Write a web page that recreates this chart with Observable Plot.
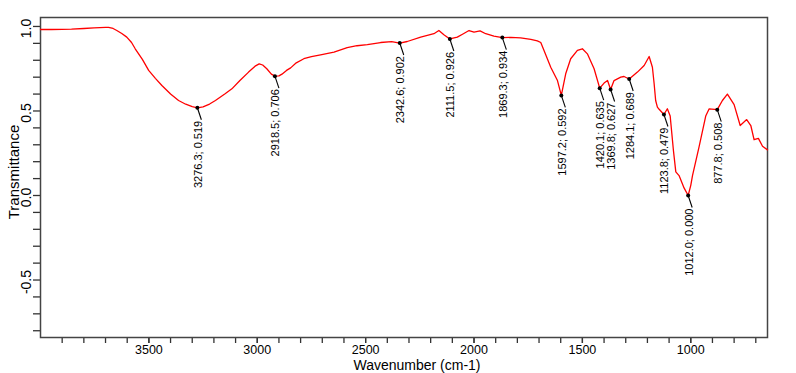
<!DOCTYPE html>
<html>
<head>
<meta charset="utf-8">
<script src="https://cdn.jsdelivr.net/npm/d3@7"></script>
<script src="https://cdn.jsdelivr.net/npm/@observablehq/plot@0.6"></script>
<style>
  body { margin: 0; background: #fff; }
  #chart svg { font-family: Arial, "Liberation Sans", sans-serif; background: #fff; }
</style>
</head>
<body>
<div id="chart"></div>
<script>
// ---- Data ----
const wavenumber = [4000, 3950, 3900, 3857, 3800, 3753, 3700, 3686, 3665, 3648, 3625, 3602, 3580, 3563, 3530, 3501, 3470, 3440, 3400, 3363, 3330, 3300, 3276.3, 3250, 3220, 3193, 3150, 3117, 3080, 3040, 3010, 2991, 2975, 2956, 2935, 2918.5, 2900, 2886, 2865, 2846, 2820, 2785, 2750, 2708, 2646, 2585, 2540, 2492, 2431, 2380, 2342.6, 2308, 2246, 2185, 2162, 2139, 2111.5, 2077, 2049, 2023, 2000, 1972, 1946, 1908, 1869.3, 1830, 1785, 1738, 1708, 1692, 1677, 1646, 1615, 1597.2, 1577, 1554, 1523, 1500, 1477, 1446, 1420.1, 1400, 1384, 1369.8, 1354, 1323, 1308, 1284.1, 1246, 1215, 1192, 1177, 1169, 1162, 1154, 1146, 1123.8, 1108, 1095, 1080, 1069, 1054, 1031, 1012.0, 1000, 992, 962, 931, 915, 877.8, 854, 831, 800, 772, 742, 723, 708, 688, 669, 646];
const transmittance = [0.982, 0.982, 0.983, 0.984, 0.988, 0.992, 0.994, 0.994, 0.988, 0.976, 0.958, 0.937, 0.905, 0.868, 0.805, 0.740, 0.693, 0.651, 0.600, 0.562, 0.540, 0.526, 0.519, 0.524, 0.541, 0.562, 0.600, 0.631, 0.680, 0.730, 0.765, 0.779, 0.772, 0.750, 0.718, 0.706, 0.708, 0.718, 0.740, 0.755, 0.785, 0.809, 0.822, 0.832, 0.848, 0.875, 0.886, 0.892, 0.905, 0.910, 0.902, 0.911, 0.937, 0.957, 0.976, 0.951, 0.926, 0.937, 0.957, 0.976, 0.966, 0.974, 0.957, 0.943, 0.934, 0.935, 0.933, 0.923, 0.915, 0.905, 0.858, 0.759, 0.680, 0.592, 0.720, 0.809, 0.858, 0.868, 0.838, 0.750, 0.635, 0.665, 0.680, 0.627, 0.680, 0.700, 0.704, 0.689, 0.730, 0.769, 0.822, 0.759, 0.661, 0.562, 0.523, 0.510, 0.479, 0.513, 0.470, 0.266, 0.140, 0.118, 0.045, 0.000, 0.060, 0.118, 0.286, 0.470, 0.513, 0.508, 0.562, 0.600, 0.538, 0.414, 0.449, 0.414, 0.330, 0.338, 0.291, 0.270];

const peakWavenumber = [3276.3, 2918.5, 2342.6, 2111.5, 1869.3, 1597.2, 1420.1, 1369.8, 1284.1, 1123.8, 1012.0, 877.8];
const peakTransmittance = [0.519, 0.706, 0.902, 0.926, 0.934, 0.592, 0.635, 0.627, 0.689, 0.479, 0.000, 0.508];

const xMajorTicks = [3500, 3000, 2500, 2000, 1500, 1000];
const xTickLabels = ["3500", "3000", "2500", "2000", "1500", "1000"];
const xMinorTicks = [3900, 3800, 3700, 3600, 3500, 3400, 3300, 3200, 3100, 3000, 2900, 2800, 2700, 2600, 2500, 2400, 2300, 2200, 2100, 2000, 1900, 1800, 1700, 1600, 1500, 1400, 1300, 1200, 1100, 1000, 900, 800, 700];
const yMajorTicks = [1.0, 0.5, 0.0, -0.5];
const yTickLabels = ["1.0", "0.5", "0.0", "-0.5"];
const yMinorTicks = [1.0, 0.9, 0.8, 0.7, 0.6, 0.5, 0.4, 0.3, 0.2, 0.1, 0.0, -0.1, -0.2, -0.3, -0.4, -0.5, -0.6, -0.7, -0.8];

const xTitle = "Wavenumber (cm-1)";
const yTitle = "Transmittance";

// ---- Layout ----
const W = 796, H = 373;
const M = {top: 17, right: 29, bottom: 36, left: 40};
const xDomain = [4000, 646];
const yDomain = [-0.84, 1.053];

const spectrum = wavenumber.map((w, i) => ({w, t: transmittance[i]}));
const peaks = peakWavenumber.map((w, i) => ({w, t: peakTransmittance[i]}));

// leader line offsets expressed in pixels, converted to data units
const pxPerX = (W - M.left - M.right) / (xDomain[0] - xDomain[1]);
const pxPerY = (H - M.top - M.bottom) / (yDomain[1] - yDomain[0]);
const leadDx = 4 / pxPerX, leadDy = 12 / pxPerY;

const chart = Plot.plot({
  width: W,
  height: H,
  marginTop: M.top,
  marginRight: M.right,
  marginBottom: M.bottom,
  marginLeft: M.left,
  style: {fontFamily: 'Arial, "Liberation Sans", sans-serif', background: "#fff"},
  x: {domain: xDomain, axis: null, label: null},
  y: {domain: yDomain, axis: null, label: null},
  marks: [
    Plot.axisX(xMinorTicks, {anchor: "bottom", label: null, tickSize: 6, stroke: "#333", strokeWidth: 1.3, tickFormat: () => ""}),
    Plot.axisX(xMajorTicks, {anchor: "bottom", label: null, tickSize: 6, tickPadding: 2, stroke: "#333", strokeWidth: 1.3, fontSize: 12.5, fill: "#000",
      tickFormat: d => xTickLabels[xMajorTicks.indexOf(d)]}),
    Plot.axisY(yMinorTicks, {anchor: "left", label: null, tickSize: 7, stroke: "#333", strokeWidth: 1.3, tickFormat: () => ""}),
    Plot.text(yMajorTicks, {frameAnchor: "left", y: d => d, text: (d, i) => yTickLabels[i], rotate: -90, dx: -14, dy: 2,
      textAnchor: "middle", lineAnchor: "middle", fontSize: 14, fill: "#000"}),
    Plot.frame({stroke: "#444", strokeWidth: 1.5}),
    Plot.line(spectrum, {x: "w", y: "t", stroke: "#ff0000", strokeWidth: 1.3, curve: "linear"}),
    Plot.link(peaks, {x1: "w", y1: "t", x2: d => d.w - leadDx, y2: d => d.t - leadDy, stroke: "#000", strokeWidth: 1.1}),
    Plot.dot(peaks, {x: "w", y: "t", r: 2, fill: "#000"}),
    Plot.text(peaks, {x: "w", y: "t", text: d => `${d.w.toFixed(1)}; ${d.t.toFixed(3)}`, rotate: -90,
      textAnchor: "end", lineAnchor: "middle", dx: 1, dy: 13, fontSize: 11, fill: "#000"}),
    Plot.text([xTitle], {frameAnchor: "bottom", text: d => d, dx: 13, dy: 28, lineAnchor: "middle", fontSize: 14, fill: "#000"}),
    Plot.text([yTitle], {frameAnchor: "left", text: d => d, dx: -26.5, dy: -5.5, rotate: -90, textAnchor: "middle",
      lineAnchor: "middle", fontSize: 15, fill: "#000"})
  ]
});
document.getElementById("chart").appendChild(chart);
</script>
</body>
</html>
